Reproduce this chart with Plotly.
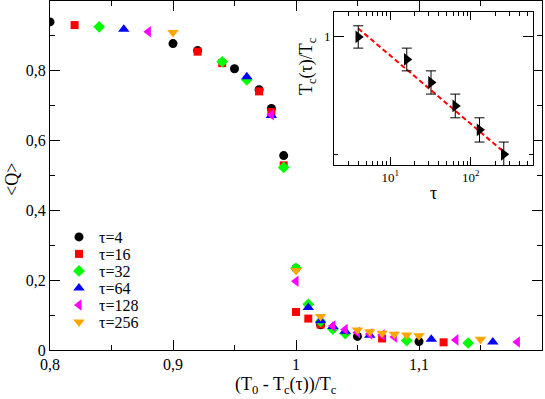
import plotly.graph_objects as go

# main panel: <Q> vs (T0 - Tc(tau))/Tc
x_tau4 = [0.80, 0.90, 0.92, 0.95, 0.97, 0.98, 0.99, 1.00, 1.02, 1.05, 1.10]
y_tau4 = [0.940, 0.878, 0.858, 0.806, 0.746, 0.692, 0.557, 0.234, 0.072, 0.039, 0.024]

x_tau16 = [0.82, 0.92, 0.94, 0.97, 0.98, 0.99, 1.00, 1.01, 1.02, 1.07, 1.12]
y_tau16 = [0.931, 0.855, 0.822, 0.741, 0.682, 0.529, 0.109, 0.090, 0.073, 0.033, 0.022]

x_tau32 = [0.84, 0.94, 0.96, 0.99, 1.00, 1.01, 1.02, 1.03, 1.04, 1.09, 1.14]
y_tau32 = [0.926, 0.826, 0.774, 0.523, 0.234, 0.131, 0.082, 0.060, 0.047, 0.027, 0.020]

x_tau64 = [0.86, 0.96, 0.98, 1.01, 1.02, 1.03, 1.04, 1.06, 1.11, 1.16]
y_tau64 = [0.919, 0.783, 0.672, 0.122, 0.084, 0.067, 0.054, 0.042, 0.031, 0.023]

x_tau128 = [0.88, 0.98, 1.00, 1.03, 1.04, 1.05, 1.06, 1.07, 1.08, 1.13, 1.18]
y_tau128 = [0.912, 0.674, 0.197, 0.069, 0.059, 0.050, 0.046, 0.043, 0.037, 0.029, 0.023]

x_tau256 = [0.90, 1.00, 1.02, 1.05, 1.06, 1.07, 1.08, 1.09, 1.10, 1.15]
y_tau256 = [0.910, 0.228, 0.096, 0.057, 0.052, 0.048, 0.045, 0.043, 0.041, 0.031]

# inset: Tc(tau)/Tc vs tau
tau_vals = [4, 16, 32, 64, 128, 256]
tc_ratio = [1.00, 0.98, 0.96, 0.94, 0.92, 0.90]
tc_err = [0.01, 0.01, 0.01, 0.01, 0.01, 0.01]
fit_tau = [4, 256]
fit_ratio = [1.0076, 0.902]

x_ticks = [0.8, 0.9, 1.0, 1.1, 1.2]
x_ticktext = ["0,8", "0,9", "1", "1,1", ""]
y_ticks = [0, 0.2, 0.4, 0.6, 0.8, 1.0]
y_ticktext = ["0", "0,2", "0,4", "0,6", "0,8", ""]

FONT = "Liberation Serif, Times New Roman, Times, serif"

series = [
    ("τ=4", x_tau4, y_tau4, "circle", "black", 9),
    ("τ=16", x_tau16, y_tau16, "square", "#ff0000", 8),
    ("τ=32", x_tau32, y_tau32, "diamond", "#00ff00", 9),
    ("τ=64", x_tau64, y_tau64, "triangle-up", "#0000ff", 10),
    ("τ=128", x_tau128, y_tau128, "triangle-left", "#ff00ff", 10),
    ("τ=256", x_tau256, y_tau256, "triangle-down", "#ffa500", 10),
]

fig = go.Figure()
legend_ids = ["legend", "legend2", "legend3", "legend4", "legend5", "legend6"]
for (name, xs, ys, sym, col, sz), lg in zip(series, legend_ids):
    fig.add_trace(go.Scatter(x=xs, y=ys, mode="markers", name=name, legend=lg,
                             marker=dict(symbol=sym, color=col, size=sz, line=dict(width=0))))

fig.add_trace(go.Scatter(x=fit_tau, y=fit_ratio, mode="lines", xaxis="x2", yaxis="y2",
                         line=dict(color="#ff0000", width=2, dash="5px,3px"), showlegend=False))
fig.add_trace(go.Scatter(x=tau_vals, y=tc_ratio, mode="markers", xaxis="x2", yaxis="y2",
                         marker=dict(symbol="triangle-right", color="black", size=11),
                         error_y=dict(type="data", array=tc_err, color="black", thickness=1, width=5),
                         showlegend=False))

# plot area in pixels: x 50..542, y 1..350
def px_x(p):
    return (p - 50) / 492

def px_y(p):
    return (350 - p) / 349

tick_font = dict(family=FONT, size=16, color="black")
inset_tick_font = dict(family=FONT, size=13, color="black")
axis_common = dict(showline=True, linecolor="black", linewidth=1, mirror="allticks",
                   ticks="inside", tickcolor="black", showgrid=False, zeroline=False)

legend_rows = [237, 254, 271, 288, 305, 322]
layout_legends = {}
for lg, row in zip(legend_ids, legend_rows):
    layout_legends[lg] = dict(x=px_x(59), y=px_y(row), xanchor="left", yanchor="middle",
                              bgcolor="rgba(0,0,0,0)", font=dict(family=FONT, size=16, color="black"),
                              itemwidth=30, tracegroupgap=0)

fig.update_layout(
    width=545, height=399,
    margin=dict(l=50, r=3, t=1, b=49),
    paper_bgcolor="white", plot_bgcolor="white",
    font=dict(family=FONT, color="black"),
    xaxis=dict(range=[0.8, 1.2], tickvals=x_ticks, ticktext=x_ticktext, ticklen=10, tickfont=tick_font,
               minor=dict(tickvals=[0.85, 0.95, 1.05, 1.15], ticklen=5, ticks="inside", tickcolor="black"),
               **axis_common),
    yaxis=dict(range=[0, 1], tickvals=y_ticks, ticktext=y_ticktext, ticklen=10, tickfont=tick_font,
               minor=dict(tickvals=[0.1, 0.3, 0.5, 0.7, 0.9], ticklen=5, ticks="inside", tickcolor="black"),
               **axis_common),
    xaxis2=dict(type="log", range=[0.301, 2.771], domain=[px_x(334), px_x(533)], anchor="y2",
                tickvals=[10, 100], ticktext=["10<sup>1</sup>", "10<sup>2</sup>"], ticklen=8,
                tickfont=inset_tick_font,
                minor=dict(tickvals=[3, 4, 5, 6, 7, 8, 9, 20, 30, 40, 50, 60, 70, 80, 90, 200, 300, 400, 500],
                           ticklen=4, ticks="inside", tickcolor="black"),
                **axis_common),
    yaxis2=dict(type="log", range=[-0.0499, 0.0097], domain=[px_y(165), px_y(12)], anchor="x2",
                tickvals=[1], ticktext=["1"], ticklen=10, tickfont=inset_tick_font,
                minor=dict(tickvals=[0.9], ticklen=4, ticks="inside", tickcolor="black"),
                **axis_common),
    **layout_legends,
)

ann_font = dict(family=FONT, size=18, color="black")
ann_common = dict(xref="paper", yref="paper", showarrow=False, xanchor="center", yanchor="middle",
                  font=ann_font)
fig.add_annotation(x=px_x(286), y=px_y(385), text="(T<sub>0</sub> - T<sub>c</sub>(τ))/T<sub>c</sub>",
                   **ann_common)
fig.add_annotation(x=px_x(12), y=px_y(180), text="&lt;Q&gt;", textangle=-90, **ann_common)
fig.add_annotation(x=px_x(308), y=px_y(66), text="T<sub>c</sub>(τ)/T<sub>c</sub>", textangle=-90,
                   **ann_common)
fig.add_annotation(x=px_x(433), y=px_y(193), text="τ", **ann_common)

# drop the default 8px page margin so the figure sits at the window's corner
fig.write_html("out.html", config={"displayModeBar": False},
               post_script="document.body.style.margin='0';")
